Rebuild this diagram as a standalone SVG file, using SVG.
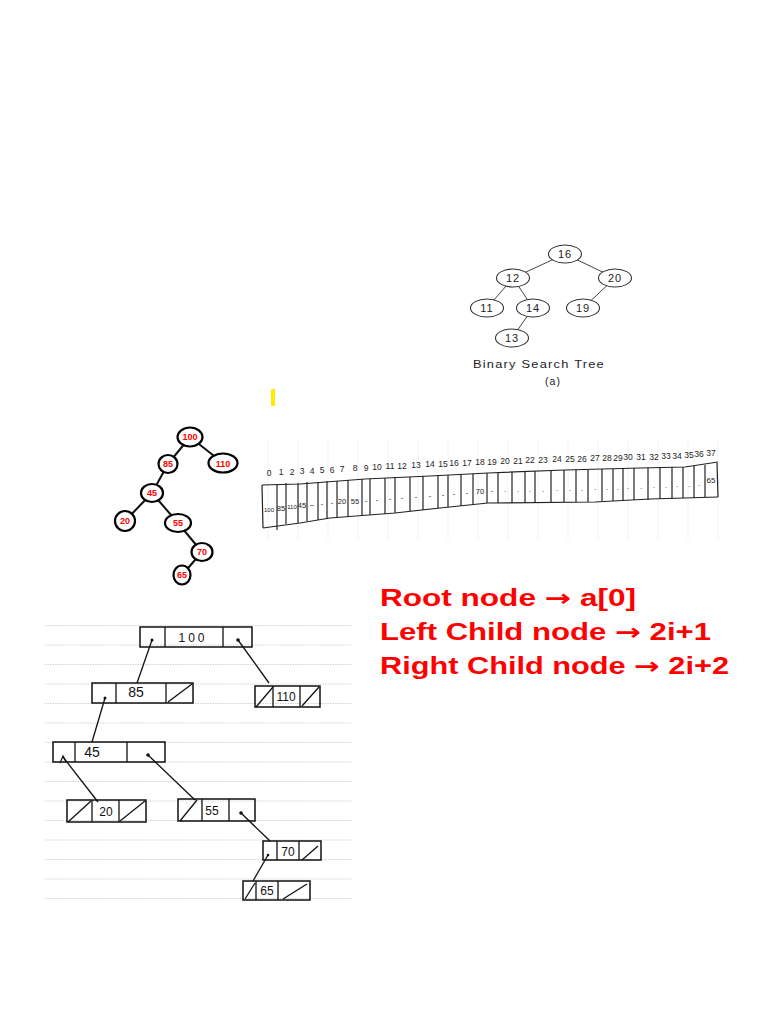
<svg xmlns="http://www.w3.org/2000/svg" width="768" height="1024" viewBox="0 0 768 1024">
<style>
.bst ellipse{fill:#fff;stroke:#333;stroke-width:1.1}
.bst text{font-family:"Liberation Sans",sans-serif;font-size:11px;fill:#222;text-anchor:middle;letter-spacing:1px}
.bstE line{stroke:#444;stroke-width:1}
.rt ellipse{fill:#fff;stroke:#000;stroke-width:2.2}
.rt text{font-family:"Liberation Sans",sans-serif;font-size:9px;font-weight:bold;fill:#f00;text-anchor:middle}
.rtE line{stroke:#111;stroke-width:2}
.arr line,.arr polyline{stroke:#222;stroke-width:1.2;fill:none}
.idx{font-family:"Liberation Sans",sans-serif;font-size:8.5px;fill:#222;text-anchor:middle}
.val{font-family:"Liberation Sans",sans-serif;font-size:7.5px;fill:#222;text-anchor:middle}
.rule line{stroke:#c8c8c8;stroke-width:0.8;stroke-dasharray:1.5 1}
.ll rect{fill:none;stroke:#111;stroke-width:1.5}
.ll line{stroke:#111;stroke-width:1.3}
.ll text{font-family:"Liberation Sans",sans-serif;font-size:12px;fill:#111;text-anchor:middle}
.llE line{stroke:#111;stroke-width:1.3}
.dot{fill:#111}
.red{font-family:"Liberation Sans",sans-serif;font-weight:bold;font-size:23px;fill:#f00}
.ar{font-family:"DejaVu Sans",sans-serif;font-weight:bold}
</style>
<rect width="768" height="1024" fill="#fff"/>

<!-- BST (a) -->
<g class="bstE" id="bst-edges">
<line x1="565" y1="254" x2="513" y2="278"/>
<line x1="565" y1="254" x2="615" y2="278"/>
<line x1="513" y1="278" x2="487" y2="308"/>
<line x1="513" y1="278" x2="533" y2="308"/>
<line x1="615" y1="278" x2="583" y2="308"/>
<line x1="533" y1="308" x2="512" y2="338"/>
</g>
<g class="bst">
<g id="bst16"><ellipse cx="565" cy="254" rx="16.5" ry="9"/><text x="565" y="258">16</text></g>
<g id="bst12"><ellipse cx="513" cy="278" rx="16.5" ry="9"/><text x="513" y="282">12</text></g>
<g id="bst20"><ellipse cx="615" cy="278" rx="16.5" ry="9"/><text x="615" y="282">20</text></g>
<g id="bst11"><ellipse cx="487" cy="308" rx="16.5" ry="9"/><text x="487" y="312">11</text></g>
<g id="bst14"><ellipse cx="533" cy="308" rx="16.5" ry="9"/><text x="533" y="312">14</text></g>
<g id="bst19"><ellipse cx="583" cy="308" rx="16.5" ry="9"/><text x="583" y="312">19</text></g>
<g id="bst13"><ellipse cx="512" cy="338" rx="16.5" ry="9"/><text x="512" y="342">13</text></g>
<text x="539" y="368" textLength="132" lengthAdjust="spacingAndGlyphs" style="font-size:10.5px">Binary Search Tree</text>
<text x="553" y="385" style="font-size:10.5px">(a)</text>
</g>

<!-- yellow mark -->
<rect x="271" y="389" width="4" height="17" fill="#ffec00"/>

<!-- red tree -->
<g class="rtE" id="rt-edges">
<line x1="190" y1="437" x2="168" y2="464"/>
<line x1="190" y1="437" x2="223" y2="463"/>
<line x1="168" y1="464" x2="152" y2="493"/>
<line x1="152" y1="493" x2="125" y2="521"/>
<line x1="152" y1="493" x2="178" y2="523"/>
<line x1="178" y1="523" x2="202" y2="552"/>
<line x1="202" y1="552" x2="182" y2="575"/>
</g>
<g class="rt">
<g id="rt100"><ellipse cx="190" cy="437" rx="12.5" ry="9.5"/><text x="190" y="440">100</text></g>
<g id="rt110"><ellipse cx="223" cy="463" rx="14.5" ry="9.5"/><text x="223" y="467">110</text></g>
<g id="rt85"><ellipse cx="168" cy="464" rx="9.5" ry="9"/><text x="168" y="467">85</text></g>
<g id="rt45"><ellipse cx="152" cy="493" rx="11" ry="9"/><text x="152" y="496">45</text></g>
<g id="rt20"><ellipse cx="125" cy="521" rx="10" ry="10"/><text x="125" y="524">20</text></g>
<g id="rt55"><ellipse cx="178" cy="523" rx="13" ry="9"/><text x="178" y="526">55</text></g>
<g id="rt70"><ellipse cx="202" cy="552" rx="10.5" ry="9"/><text x="202" y="555">70</text></g>
<g id="rt65"><ellipse cx="182" cy="575" rx="8.5" ry="9.5"/><text x="182" y="578">65</text></g>
</g>

<!-- array -->
<g id="array">
<g stroke="#f0f0f0" stroke-width="0.8">
<line x1="268" y1="440" x2="268" y2="540"/><line x1="298" y1="440" x2="298" y2="540"/><line x1="328" y1="440" x2="328" y2="540"/><line x1="358" y1="440" x2="358" y2="540"/><line x1="388" y1="440" x2="388" y2="540"/><line x1="418" y1="440" x2="418" y2="540"/><line x1="448" y1="440" x2="448" y2="540"/><line x1="478" y1="440" x2="478" y2="540"/><line x1="508" y1="440" x2="508" y2="540"/><line x1="538" y1="440" x2="538" y2="540"/><line x1="568" y1="440" x2="568" y2="540"/><line x1="598" y1="440" x2="598" y2="540"/><line x1="628" y1="440" x2="628" y2="540"/><line x1="658" y1="440" x2="658" y2="540"/><line x1="688" y1="440" x2="688" y2="540"/><line x1="718" y1="440" x2="718" y2="540"/>
</g>
<g class="arr">
<polyline points="262,485 300,484 365,479 430,476 488,473 565,470 640,468 685,467 718,462"/>
<polyline points="263,528 300,523 330,518 395,513 440,508 488,503 595,502 650,499 718,497"/>
<line x1="262" y1="485" x2="263" y2="528"/>
<line x1="277" y1="484" x2="277" y2="530"/>
<line x1="286" y1="483" x2="286" y2="524"/>
<line x1="298" y1="483" x2="298" y2="523"/>
<line x1="307" y1="482" x2="307" y2="521"/>
<line x1="318" y1="482" x2="318" y2="520"/>
<line x1="327" y1="481" x2="327" y2="519"/>
<line x1="337" y1="481" x2="337" y2="518"/>
<line x1="348" y1="480" x2="348" y2="517"/>
<line x1="362" y1="479" x2="362" y2="516"/>
<line x1="370" y1="479" x2="370" y2="515"/>
<line x1="385" y1="478" x2="385" y2="514"/>
<line x1="395" y1="477" x2="395" y2="513"/>
<line x1="410" y1="477" x2="410" y2="511"/>
<line x1="423" y1="476" x2="423" y2="510"/>
<line x1="438" y1="475" x2="438" y2="508"/>
<line x1="448" y1="475" x2="448" y2="507"/>
<line x1="461" y1="474" x2="461" y2="506"/>
<line x1="473" y1="474" x2="473" y2="505"/>
<line x1="487" y1="473" x2="487" y2="503"/>
<line x1="498" y1="473" x2="498" y2="503"/>
<line x1="512" y1="472" x2="512" y2="503"/>
<line x1="525" y1="472" x2="525" y2="503"/>
<line x1="535" y1="471" x2="535" y2="503"/>
<line x1="551" y1="471" x2="551" y2="503"/>
<line x1="564" y1="470" x2="564" y2="502"/>
<line x1="576" y1="470" x2="576" y2="502"/>
<line x1="588" y1="470" x2="588" y2="502"/>
<line x1="602" y1="469" x2="602" y2="501"/>
<line x1="613" y1="469" x2="613" y2="501"/>
<line x1="623" y1="469" x2="623" y2="501"/>
<line x1="634" y1="468" x2="634" y2="500"/>
<line x1="648" y1="468" x2="648" y2="500"/>
<line x1="660" y1="468" x2="660" y2="499"/>
<line x1="672" y1="467" x2="672" y2="499"/>
<line x1="683" y1="467" x2="683" y2="498"/>
<line x1="694" y1="466" x2="694" y2="498"/>
<line x1="705" y1="465" x2="705" y2="497"/>
<line x1="717" y1="463" x2="718" y2="497"/>
</g>
<g class="idx">
<text x="269" y="476">0</text><text x="281" y="475">1</text><text x="292" y="475">2</text><text x="302" y="474">3</text><text x="312" y="474">4</text><text x="322" y="473">5</text><text x="332" y="473">6</text><text x="342" y="472">7</text><text x="355" y="471">8</text><text x="366" y="471">9</text>
<text x="377" y="470">10</text><text x="390" y="469">11</text><text x="402" y="469">12</text><text x="416" y="468">13</text><text x="430" y="467">14</text><text x="443" y="467">15</text><text x="454" y="466">16</text><text x="467" y="466">17</text><text x="480" y="465">18</text><text x="492" y="465">19</text>
<text x="505" y="464">20</text><text x="518" y="464">21</text><text x="530" y="463">22</text><text x="543" y="463">23</text><text x="557" y="462">24</text><text x="570" y="462">25</text><text x="582" y="462">26</text><text x="595" y="461">27</text><text x="607" y="461">28</text><text x="618" y="461">29</text>
<text x="628" y="460">30</text><text x="641" y="460">31</text><text x="654" y="460">32</text><text x="666" y="459">33</text><text x="677" y="459">34</text><text x="689" y="458">35</text><text x="699" y="457">36</text><text x="711" y="456">37</text>
</g>
<g class="val">
<text x="269" y="512" style="font-size:6px">100</text><text x="281" y="511">85</text><text x="292" y="509" style="font-size:6px">110</text><text x="302" y="508">45</text><text x="312" y="507">–</text><text x="322" y="506">-</text><text x="332" y="505">-</text><text x="342" y="504">20</text><text x="355" y="504">55</text><text x="366" y="503">-</text>
<text x="377" y="502">-</text><text x="390" y="501">-</text><text x="402" y="500">-</text><text x="416" y="499">-</text><text x="430" y="498">-</text><text x="443" y="497">-</text><text x="454" y="496">-</text><text x="467" y="495">-</text><text x="480" y="494">70</text><text x="492" y="493">-</text>
<text x="505" y="492">.</text><text x="518" y="492">.</text><text x="530" y="492">.</text><text x="543" y="492">.</text><text x="557" y="491">.</text><text x="570" y="491">.</text><text x="582" y="491">.</text><text x="595" y="490">.</text><text x="607" y="490">.</text><text x="618" y="490">.</text>
<text x="628" y="489">.</text><text x="641" y="489">.</text><text x="654" y="488">.</text><text x="666" y="488">.</text><text x="677" y="487">.</text><text x="689" y="487">.</text><text x="699" y="486">.</text><text x="711" y="483" style="font-size:8px">65</text>
</g>
</g>

<!-- red text -->
<g id="formulas">
<text class="red" x="380" y="606" textLength="256" lengthAdjust="spacingAndGlyphs">Root node <tspan class="ar">→</tspan> a[0]</text>
<text class="red" x="380" y="640" textLength="331" lengthAdjust="spacingAndGlyphs">Left Child node <tspan class="ar">→</tspan> 2i+1</text>
<text class="red" x="380" y="674" textLength="349" lengthAdjust="spacingAndGlyphs">Right Child node <tspan class="ar">→</tspan> 2i+2</text>
</g>

<!-- ruled paper -->
<g class="rule" id="ruled-lines">
<line x1="45" y1="625.5" x2="352" y2="625.5"/>
<line x1="45" y1="645" x2="352" y2="645"/>
<line x1="45" y1="664.5" x2="352" y2="664.5"/>
<line x1="45" y1="684" x2="352" y2="684"/>
<line x1="45" y1="703.5" x2="352" y2="703.5"/>
<line x1="45" y1="723" x2="352" y2="723"/>
<line x1="45" y1="742.5" x2="352" y2="742.5"/>
<line x1="45" y1="762" x2="352" y2="762"/>
<line x1="45" y1="781.5" x2="352" y2="781.5"/>
<line x1="45" y1="801" x2="352" y2="801"/>
<line x1="45" y1="820.5" x2="352" y2="820.5"/>
<line x1="45" y1="840" x2="352" y2="840"/>
<line x1="45" y1="859.5" x2="352" y2="859.5"/>
<line x1="45" y1="879" x2="352" y2="879"/>
<line x1="45" y1="898.5" x2="352" y2="898.5"/>
</g>

<!-- linked list connectors -->
<g class="llE" id="ll-connectors">
<line x1="152" y1="640" x2="137" y2="683"/>
<line x1="238" y1="640" x2="269" y2="683"/>
<line x1="105" y1="698" x2="92" y2="742"/>
<line x1="98" y1="802" x2="63" y2="757"/>
<polyline points="60,763 63,756 66,762" fill="none" stroke="#111" stroke-width="1.2"/>
<line x1="148" y1="755" x2="195" y2="800"/>
<line x1="241" y1="813" x2="270" y2="841"/>
<line x1="268" y1="855" x2="253" y2="881"/>
</g>

<!-- linked list nodes -->
<g class="ll">
<g id="ll100">
<rect x="140" y="627" width="112" height="20"/>
<line x1="165" y1="627" x2="165" y2="647"/><line x1="223" y1="627" x2="223" y2="647"/>
<circle class="dot" cx="152" cy="640" r="1.5"/><circle class="dot" cx="238" cy="640" r="1.8"/>
<text x="193" y="642" letter-spacing="3">100</text>
</g>
<g id="ll85">
<rect x="92" y="683" width="101" height="20"/>
<line x1="116" y1="683" x2="116" y2="703"/><line x1="166" y1="683" x2="166" y2="703"/>
<circle class="dot" cx="105" cy="698" r="1.5"/>
<line x1="168" y1="702" x2="192" y2="684"/>
<text x="136" y="697" style="font-size:14px">85</text>
</g>
<g id="ll110">
<rect x="255" y="686" width="65" height="21"/>
<line x1="273" y1="686" x2="273" y2="707"/><line x1="300" y1="686" x2="300" y2="707"/>
<line x1="256" y1="707" x2="273" y2="687"/><line x1="302" y1="706" x2="319" y2="687"/>
<text x="286" y="701">110</text>
</g>
<g id="ll45">
<rect x="53" y="742" width="112" height="20"/>
<line x1="75" y1="742" x2="75" y2="762"/><line x1="127" y1="742" x2="127" y2="762"/>
<circle class="dot" cx="148" cy="755" r="1.8"/>
<text x="92" y="757" style="font-size:14px">45</text>
</g>
<g id="ll20">
<rect x="67" y="800" width="79" height="22"/>
<line x1="92" y1="800" x2="92" y2="822"/><line x1="119" y1="800" x2="119" y2="822"/>
<line x1="68" y1="822" x2="91" y2="801"/><line x1="120" y1="821" x2="145" y2="801"/>
<text x="106" y="816">20</text>
</g>
<g id="ll55">
<rect x="178" y="799" width="77" height="22"/>
<line x1="202" y1="799" x2="202" y2="821"/><line x1="229" y1="799" x2="229" y2="821"/>
<line x1="180" y1="821" x2="197" y2="800"/>
<circle class="dot" cx="241" cy="813" r="1.8"/>
<text x="212" y="815">55</text>
</g>
<g id="ll70">
<rect x="263" y="841" width="58" height="19"/>
<line x1="277" y1="841" x2="277" y2="860"/><line x1="299" y1="841" x2="299" y2="860"/>
<circle class="dot" cx="268" cy="855" r="1.3"/>
<line x1="302" y1="860" x2="318" y2="846"/>
<text x="288" y="856">70</text>
</g>
<g id="ll65">
<rect x="243" y="881" width="67" height="19"/>
<line x1="256" y1="881" x2="256" y2="900"/><line x1="278" y1="881" x2="278" y2="900"/>
<line x1="245" y1="899" x2="255" y2="883"/><line x1="283" y1="899" x2="307" y2="884"/>
<text x="267" y="895">65</text>
</g>
</g>
</svg>
